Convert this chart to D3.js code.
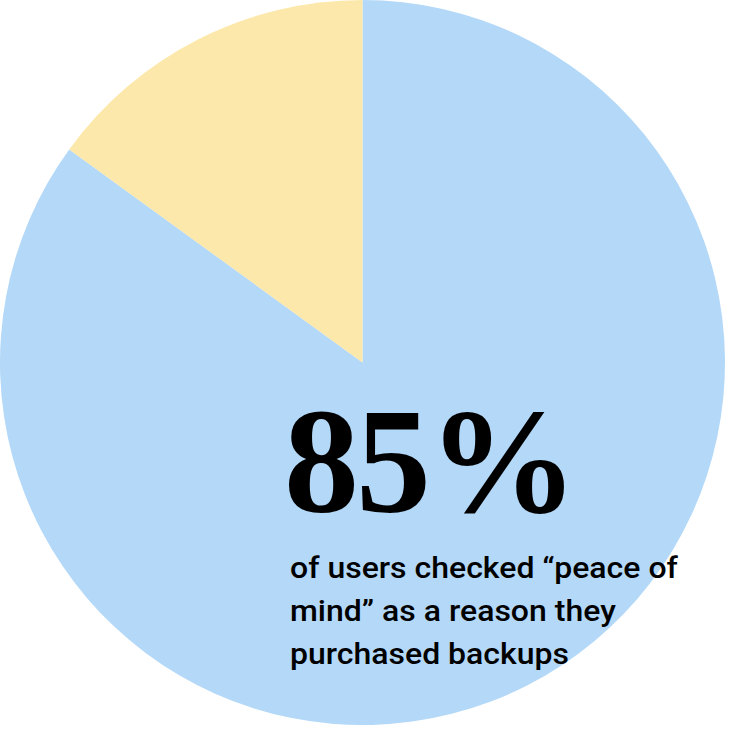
<!DOCTYPE html>
<html><head><meta charset="utf-8">
<script src="https://cdn.jsdelivr.net/npm/d3@7/dist/d3.min.js"></script>
<style>html,body{margin:0;padding:0;background:#fff;}svg{display:block;}</style>
</head><body>
<script>
const categories = ["Peace of mind", "Other"];
const values = [85, 15];
const colors = ["#b3d8f8", "#fde8ab"];
const bigLabel = "85%";
const captionLines = ["of users checked \u201cpeace of", "mind\u201d as a reason they", "purchased backups"];

const W = 742, H = 740;
const cx = 362.5, cy = 362.5, r = 362.5;
const svg = d3.select("body").append("svg").attr("width", W).attr("height", H);

const pie = d3.pie().sort(null).value(d => d.v);
const arcs = pie(categories.map((c, i) => ({c, v: values[i]})));
const arc = d3.arc().innerRadius(0).outerRadius(r);
const color = d3.scaleOrdinal().domain(categories).range(colors);

svg.append("g").attr("transform", `translate(${cx},${cy})`)
  .selectAll("path").data(arcs).join("path")
  .attr("d", arc).attr("fill", d => color(d.data.c));

svg.append("text").attr("x", 284).attr("y", 512)
  .attr("font-family", "'Liberation Serif', serif").attr("font-weight", "bold")
  .attr("font-size", 150).attr("letter-spacing", -3).attr("fill", "#000").text(bigLabel);

const cap = svg.append("g");
const capText = cap.selectAll("text").data(captionLines).join("text")
  .attr("x", 0).attr("y", (d, i) => 578 + i * 43)
  .attr("font-family", "Roboto, sans-serif").attr("font-size", 29).attr("font-weight", 500)
  .attr("fill", "#000").text(d => d);
const w0 = capText.node().getComputedTextLength();
const sx = 388 / w0;
cap.attr("transform", `translate(290,0) scale(${sx},1)`);
</script>
</body></html>
